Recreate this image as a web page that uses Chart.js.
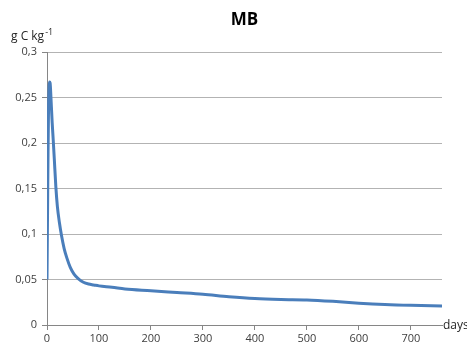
<!DOCTYPE html>
<html>
<head>
<meta charset="utf-8">
<script src="https://cdn.jsdelivr.net/npm/chart.js@4/dist/chart.umd.min.js"></script>
<style>
  html, body { margin: 0; padding: 0; background: #fff; }
  #wrap { width: 467px; height: 349px; }
</style>
</head>
<body>
<div id="wrap"><canvas id="mbChart"></canvas></div>
<script>
// days since start and microbial biomass C (g C kg-1)
const days = [0, 1, 2, 3, 4, 5, 6, 7, 8, 10, 12, 14, 17, 20, 24, 28, 33, 38, 45, 52, 60, 70, 80, 90, 100,
  125, 150, 200, 250, 300, 350, 400, 450, 500, 550, 600, 650, 700, 760];
const mb = [0.05, 0.12, 0.19, 0.24, 0.262, 0.267, 0.266, 0.257, 0.245, 0.222, 0.203, 0.183, 0.152, 0.13, 0.112,
  0.098, 0.084, 0.074, 0.063, 0.056, 0.051, 0.047, 0.045, 0.044, 0.043,
  0.0415, 0.0396, 0.0377, 0.0357, 0.0337, 0.031, 0.029, 0.028, 0.0275, 0.026, 0.024, 0.0225, 0.0216, 0.021];
const yTicks = [0, 0.05, 0.1, 0.15, 0.2, 0.25, 0.3];

const labelFont = 'Open Sans, sans-serif';

const textPlugin = {
  id: 'mbText',
  afterDraw(chart) {
    const c = chart.ctx;
    const area = chart.chartArea;
    c.save();
    c.fillStyle = '#000';
    c.textAlign = 'center';
    c.textBaseline = 'middle';
    c.font = 'bold 17px ' + labelFont;
    c.fillText('MB', (area.left + area.right) / 2, 20);

    c.fillStyle = '#262626';
    c.textAlign = 'left';
    c.textBaseline = 'alphabetic';
    c.font = '12px ' + labelFont;
    c.fillText('g C kg', 11, 40);
    const w = c.measureText('g C kg').width;
    c.font = '9px ' + labelFont;
    c.fillText('-1', 11 + w + 1, 35);

    c.font = '12px ' + labelFont;
    c.textBaseline = 'middle';
    c.fillText('days', area.right + 1, area.bottom + 1);
    c.restore();
  }
};

new Chart(document.getElementById('mbChart'), {
  type: 'line',
  data: {
    datasets: [{
      label: 'MB',
      data: days.map((d, i) => ({ x: d, y: mb[i] })),
      borderColor: '#4a7ebb',
      borderWidth: 3,
      pointRadius: 0,
      cubicInterpolationMode: 'monotone',
      fill: false
    }]
  },
  options: {
    responsive: true,
    maintainAspectRatio: false,
    animation: false,
    layout: { padding: { top: 52, right: 25, bottom: 0, left: 0 } },
    plugins: {
      legend: { display: false },
      title: { display: false },
      tooltip: { enabled: false }
    },
    scales: {
      x: {
        type: 'linear',
        min: 0,
        max: 760,
        afterFit(scale) { scale.height = 24; },
        ticks: {
          stepSize: 100,
          includeBounds: false,
          maxRotation: 0,
          padding: 2,
          color: '#404040',
          font: { family: labelFont, size: 11 }
        },
        grid: { drawOnChartArea: false, drawTicks: true, tickLength: 5, color: '#868686' },
        border: { color: '#868686' }
      },
      y: {
        min: 0,
        max: 0.3,
        afterFit(scale) { scale.width = 47; },
        afterBuildTicks(scale) { scale.ticks = yTicks.map(v => ({ value: v })); },
        ticks: {
          padding: 5,
          color: '#404040',
          font: { family: labelFont, size: 11 },
          callback: v => String(Math.round(v * 100) / 100).replace('.', ',')
        },
        grid: { color: '#b3b3b3', tickLength: 5, tickColor: '#868686' },
        border: { color: '#868686' }
      }
    }
  },
  plugins: [textPlugin]
});
</script>
</body>
</html>
